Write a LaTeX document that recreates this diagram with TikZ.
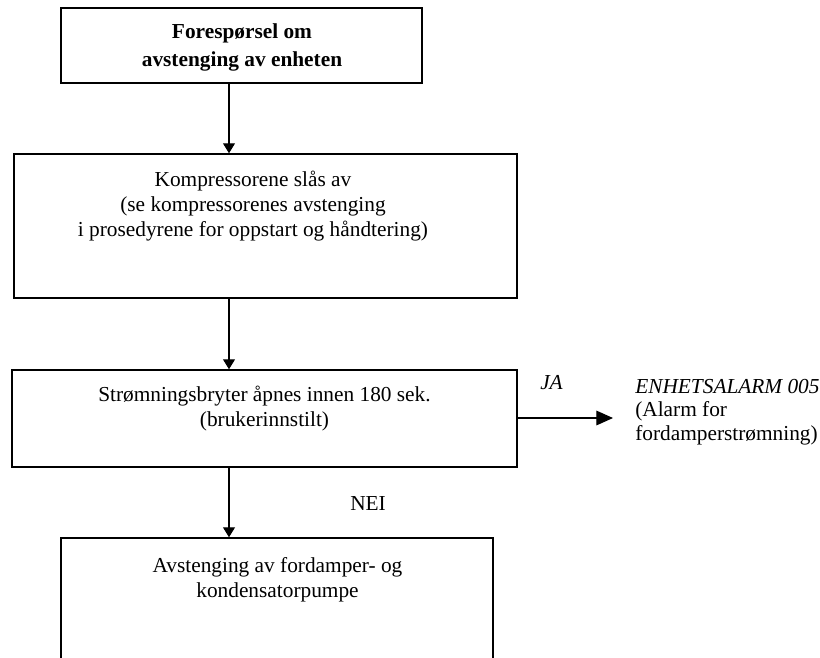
\documentclass[tikz,border=0pt]{standalone}
\usepackage{fontspec}
\setmainfont{Liberation Serif}
\usetikzlibrary{arrows.meta,fit}
\newcommand\firstln{\rule{0pt}{12pt}}
\begin{document}
\begin{tikzpicture}[x=0.75pt,y=-0.75pt,
  box/.style={draw, line width=1.1pt, inner sep=0pt},
  txt/.style={anchor=north, align=center, inner sep=0pt, font=\fontsize{16}{18.75}\selectfont},
  lbl/.style={anchor=base west, inner sep=0pt, font=\fontsize{16}{18.75}\selectfont},
  arr/.style={line width=0.8pt, -{Triangle[length=7.5pt,width=9pt]}},
  arrbig/.style={line width=0.8pt, -{Triangle[length=12.5pt,width=11pt]}}]
\useasboundingbox (0,0) rectangle (820,657);
\clip (0,0) rectangle (820,657);
% boxes
\node[box, fit={(61,8) (422,83)}] (b1) {};
\node[box, fit={(14,154) (517,298)}] (b2) {};
\node[box, fit={(12,370) (517,467)}] (b3) {};
\node[box, fit={(61,538) (493,720)}] (b4) {};
% texts
\node[txt, font=\fontsize{16}{21}\selectfont\bfseries] (t1) at (242,22) {\firstln Forespørsel om\\avstenging av enheten};
\node[txt] (t2) at (253,170) {\firstln Kompressorene slås av\\(se kompressorenes avstenging\\i prosedyrene for oppstart og håndtering)};
\node[txt] (t3) at (264.5,385) {\firstln Strømningsbryter åpnes innen 180 sek.\\(brukerinnstilt)};
\node[txt] (t4) at (277.5,556) {\firstln Avstenging av fordamper- og\\kondensatorpumpe};
\node[lbl, font=\fontsize{16}{18.75}\selectfont\itshape] (ja) at (540,389) {JA};
\node[lbl] (nei) at (350,510) {NEI};
\node[txt, anchor=north west, align=left, font=\fontsize{16}{17.6}\selectfont] (alarm) at (635,377) {\firstln\textit{ENHETSALARM 005}\\(Alarm for\\fordamperstrømning)};
% connectors
\coordinate (ax) at (229,0);
\coordinate (tip) at (613,418);
\draw[arr] (ax |- b1.south) -- (ax |- b2.north);
\draw[arr] (ax |- b2.south) -- (ax |- b3.north);
\draw[arr] (ax |- b3.south) -- (ax |- b4.north);
\draw[arrbig] (b3.east |- tip) -- (tip);
\end{tikzpicture}
\end{document}
